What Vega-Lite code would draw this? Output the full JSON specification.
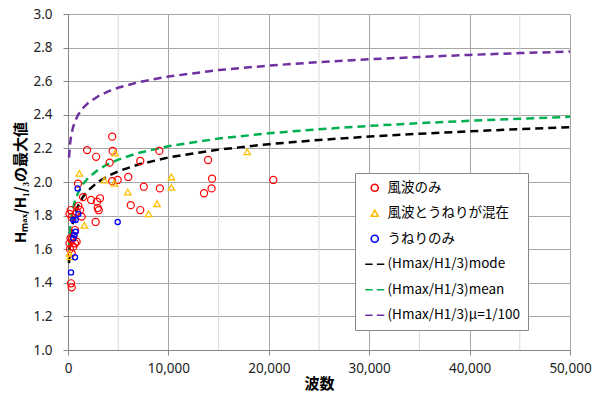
{
  "$schema": "https://vega.github.io/schema/vega-lite/v6.json",
  "width": 502,
  "height": 336,
  "autosize": {"type": "none"},
  "padding": {"left": 68, "top": 14, "right": 23, "bottom": 48},
  "background": "white",
  "config": {
    "view": {"stroke": null},
    "axis": {"labelFont": "Noto Sans", "labelFontSize": 13.5, "labelColor": "#222", "titleFont": "Noto Sans CJK JP", "titleFontWeight": "bold", "titleFontSize": 15, "titleColor": "#000", "domainColor": "#868686", "tickColor": "#868686", "tickSize": 5, "gridColor": "#a6a6a6", "gridOpacity": 1, "labelOverlap": false},
    "axisX": {"tickCount": 5, "format": ",.0f", "labelPadding": 6, "titlePadding": 2, "labelFlush": false},
    "axisY": {"tickCount": 10, "format": ".1f", "labelPadding": 11, "titlePadding": 4},
    "legend": {"labelFont": "Noto Sans CJK JP", "labelFontSize": 13.5, "labelColor": "#000", "padding": 8, "strokeColor": "#888888", "fillColor": "white", "symbolSize": 50, "symbolStrokeWidth": 1.6, "symbolOffset": 5, "labelOffset": 6, "rowPadding": 10.5, "labelLimit": 300}
  },
  "datasets": {
    "grid": [{"N": 5000}, {"N": 15000}, {"N": 25000}, {"N": 35000}, {"N": 45000}],
    "pts": [
      {"N": 4400, "v": 2.27, "series": "風波のみ"},
      {"N": 1900, "v": 2.19, "series": "風波のみ"},
      {"N": 2800, "v": 2.15, "series": "風波のみ"},
      {"N": 4450, "v": 2.185, "series": "風波のみ"},
      {"N": 4150, "v": 2.115, "series": "風波のみ"},
      {"N": 7200, "v": 2.125, "series": "風波のみ"},
      {"N": 9100, "v": 2.185, "series": "風波のみ"},
      {"N": 1000, "v": 1.99, "series": "風波のみ"},
      {"N": 4400, "v": 2.005, "series": "風波のみ"},
      {"N": 4950, "v": 2.012, "series": "風波のみ"},
      {"N": 6000, "v": 2.03, "series": "風波のみ"},
      {"N": 7550, "v": 1.972, "series": "風波のみ"},
      {"N": 9150, "v": 1.962, "series": "風波のみ"},
      {"N": 1500, "v": 1.91, "series": "風波のみ"},
      {"N": 2300, "v": 1.893, "series": "風波のみ"},
      {"N": 2890, "v": 1.883, "series": "風波のみ"},
      {"N": 3190, "v": 1.903, "series": "風波のみ"},
      {"N": 2960, "v": 1.845, "series": "風波のみ"},
      {"N": 3060, "v": 1.832, "series": "風波のみ"},
      {"N": 2750, "v": 1.762, "series": "風波のみ"},
      {"N": 6250, "v": 1.862, "series": "風波のみ"},
      {"N": 7200, "v": 1.833, "series": "風波のみ"},
      {"N": 13950, "v": 2.131, "series": "風波のみ"},
      {"N": 14350, "v": 2.02, "series": "風波のみ"},
      {"N": 14300, "v": 1.962, "series": "風波のみ"},
      {"N": 13550, "v": 1.933, "series": "風波のみ"},
      {"N": 20450, "v": 2.012, "series": "風波のみ"},
      {"N": 270, "v": 1.833, "series": "風波のみ"},
      {"N": 1030, "v": 1.857, "series": "風波のみ"},
      {"N": 1200, "v": 1.833, "series": "風波のみ"},
      {"N": 860, "v": 1.823, "series": "風波のみ"},
      {"N": 1360, "v": 1.794, "series": "風波のみ"},
      {"N": 370, "v": 1.79, "series": "風波のみ"},
      {"N": 150, "v": 1.81, "series": "風波のみ"},
      {"N": 700, "v": 1.714, "series": "風波のみ"},
      {"N": 530, "v": 1.675, "series": "風波のみ"},
      {"N": 370, "v": 1.655, "series": "風波のみ"},
      {"N": 700, "v": 1.635, "series": "風波のみ"},
      {"N": 860, "v": 1.645, "series": "風波のみ"},
      {"N": 530, "v": 1.615, "series": "風波のみ"},
      {"N": 370, "v": 1.575, "series": "風波のみ"},
      {"N": 200, "v": 1.6, "series": "風波のみ"},
      {"N": 150, "v": 1.635, "series": "風波のみ"},
      {"N": 250, "v": 1.665, "series": "風波のみ"},
      {"N": 300, "v": 1.397, "series": "風波のみ"},
      {"N": 370, "v": 1.373, "series": "風波のみ"},
      {"N": 4680, "v": 2.172, "series": "風波とうねりが混在"},
      {"N": 1130, "v": 2.052, "series": "風波とうねりが混在"},
      {"N": 3620, "v": 2.012, "series": "風波とうねりが混在"},
      {"N": 4620, "v": 1.992, "series": "風波とうねりが混在"},
      {"N": 5950, "v": 1.94, "series": "風波とうねりが混在"},
      {"N": 10300, "v": 2.03, "series": "風波とうねりが混在"},
      {"N": 10300, "v": 1.968, "series": "風波とうねりが混在"},
      {"N": 8870, "v": 1.871, "series": "風波とうねりが混在"},
      {"N": 8030, "v": 1.811, "series": "風波とうねりが混在"},
      {"N": 17850, "v": 2.18, "series": "風波とうねりが混在"},
      {"N": 1630, "v": 1.742, "series": "風波とうねりが混在"},
      {"N": 230, "v": 1.555, "series": "風波とうねりが混在"},
      {"N": 150, "v": 1.575, "series": "風波とうねりが混在"},
      {"N": 960, "v": 1.962, "series": "うねりのみ"},
      {"N": 4950, "v": 1.762, "series": "うねりのみ"},
      {"N": 530, "v": 1.774, "series": "うねりのみ"},
      {"N": 760, "v": 1.774, "series": "うねりのみ"},
      {"N": 1030, "v": 1.81, "series": "うねりのみ"},
      {"N": 760, "v": 1.704, "series": "うねりのみ"},
      {"N": 630, "v": 1.685, "series": "うねりのみ"},
      {"N": 530, "v": 1.665, "series": "うねりのみ"},
      {"N": 700, "v": 1.552, "series": "うねりのみ"},
      {"N": 300, "v": 1.462, "series": "うねりのみ"}
    ],
    "curves": [
      {"N": 100, "v": 1.5174, "series": "(Hmax/H1/3)mode"},
      {"N": 200, "v": 1.6276, "series": "(Hmax/H1/3)mode"},
      {"N": 300, "v": 1.6888, "series": "(Hmax/H1/3)mode"},
      {"N": 500, "v": 1.7628, "series": "(Hmax/H1/3)mode"},
      {"N": 700, "v": 1.8099, "series": "(Hmax/H1/3)mode"},
      {"N": 1000, "v": 1.8585, "series": "(Hmax/H1/3)mode"},
      {"N": 1500, "v": 1.9122, "series": "(Hmax/H1/3)mode"},
      {"N": 2000, "v": 1.9495, "series": "(Hmax/H1/3)mode"},
      {"N": 3000, "v": 2.0008, "series": "(Hmax/H1/3)mode"},
      {"N": 4000, "v": 2.0364, "series": "(Hmax/H1/3)mode"},
      {"N": 5000, "v": 2.0636, "series": "(Hmax/H1/3)mode"},
      {"N": 7000, "v": 2.104, "series": "(Hmax/H1/3)mode"},
      {"N": 10000, "v": 2.146, "series": "(Hmax/H1/3)mode"},
      {"N": 15000, "v": 2.1927, "series": "(Hmax/H1/3)mode"},
      {"N": 20000, "v": 2.2253, "series": "(Hmax/H1/3)mode"},
      {"N": 25000, "v": 2.2502, "series": "(Hmax/H1/3)mode"},
      {"N": 30000, "v": 2.2703, "series": "(Hmax/H1/3)mode"},
      {"N": 35000, "v": 2.2873, "series": "(Hmax/H1/3)mode"},
      {"N": 40000, "v": 2.3018, "series": "(Hmax/H1/3)mode"},
      {"N": 45000, "v": 2.3146, "series": "(Hmax/H1/3)mode"},
      {"N": 50000, "v": 2.3259, "series": "(Hmax/H1/3)mode"},
      {"N": 100, "v": 1.6125, "series": "(Hmax/H1/3)mean"},
      {"N": 200, "v": 1.7163, "series": "(Hmax/H1/3)mean"},
      {"N": 300, "v": 1.7742, "series": "(Hmax/H1/3)mean"},
      {"N": 500, "v": 1.8447, "series": "(Hmax/H1/3)mean"},
      {"N": 700, "v": 1.8896, "series": "(Hmax/H1/3)mean"},
      {"N": 1000, "v": 1.9361, "series": "(Hmax/H1/3)mean"},
      {"N": 1500, "v": 1.9877, "series": "(Hmax/H1/3)mean"},
      {"N": 2000, "v": 2.0235, "series": "(Hmax/H1/3)mean"},
      {"N": 3000, "v": 2.0729, "series": "(Hmax/H1/3)mean"},
      {"N": 4000, "v": 2.1073, "series": "(Hmax/H1/3)mean"},
      {"N": 5000, "v": 2.1335, "series": "(Hmax/H1/3)mean"},
      {"N": 7000, "v": 2.1726, "series": "(Hmax/H1/3)mean"},
      {"N": 10000, "v": 2.2132, "series": "(Hmax/H1/3)mean"},
      {"N": 15000, "v": 2.2585, "series": "(Hmax/H1/3)mean"},
      {"N": 20000, "v": 2.2901, "series": "(Hmax/H1/3)mean"},
      {"N": 25000, "v": 2.3143, "series": "(Hmax/H1/3)mean"},
      {"N": 30000, "v": 2.3339, "series": "(Hmax/H1/3)mean"},
      {"N": 35000, "v": 2.3504, "series": "(Hmax/H1/3)mean"},
      {"N": 40000, "v": 2.3645, "series": "(Hmax/H1/3)mean"},
      {"N": 45000, "v": 2.3769, "series": "(Hmax/H1/3)mean"},
      {"N": 50000, "v": 2.3879, "series": "(Hmax/H1/3)mean"},
      {"N": 100, "v": 2.1454, "series": "(Hmax/H1/3)μ=1/100"},
      {"N": 200, "v": 2.2247, "series": "(Hmax/H1/3)μ=1/100"},
      {"N": 300, "v": 2.2698, "series": "(Hmax/H1/3)μ=1/100"},
      {"N": 500, "v": 2.3254, "series": "(Hmax/H1/3)μ=1/100"},
      {"N": 700, "v": 2.3613, "series": "(Hmax/H1/3)μ=1/100"},
      {"N": 1000, "v": 2.3988, "series": "(Hmax/H1/3)μ=1/100"},
      {"N": 1500, "v": 2.4406, "series": "(Hmax/H1/3)μ=1/100"},
      {"N": 2000, "v": 2.4699, "series": "(Hmax/H1/3)μ=1/100"},
      {"N": 3000, "v": 2.5106, "series": "(Hmax/H1/3)μ=1/100"},
      {"N": 4000, "v": 2.5391, "series": "(Hmax/H1/3)μ=1/100"},
      {"N": 5000, "v": 2.561, "series": "(Hmax/H1/3)μ=1/100"},
      {"N": 7000, "v": 2.5937, "series": "(Hmax/H1/3)μ=1/100"},
      {"N": 10000, "v": 2.6278, "series": "(Hmax/H1/3)μ=1/100"},
      {"N": 15000, "v": 2.6661, "series": "(Hmax/H1/3)μ=1/100"},
      {"N": 20000, "v": 2.6929, "series": "(Hmax/H1/3)μ=1/100"},
      {"N": 25000, "v": 2.7136, "series": "(Hmax/H1/3)μ=1/100"},
      {"N": 30000, "v": 2.7303, "series": "(Hmax/H1/3)μ=1/100"},
      {"N": 35000, "v": 2.7444, "series": "(Hmax/H1/3)μ=1/100"},
      {"N": 40000, "v": 2.7565, "series": "(Hmax/H1/3)μ=1/100"},
      {"N": 45000, "v": 2.7672, "series": "(Hmax/H1/3)μ=1/100"},
      {"N": 50000, "v": 2.7767, "series": "(Hmax/H1/3)μ=1/100"}
    ]
  },
  "layer": [
    {
      "data": {"name": "grid"},
      "mark": {"type": "rule", "color": "#d9d9d9", "strokeWidth": 1},
      "encoding": {
        "x": {"field": "N", "type": "quantitative", "title": "波数"}
      }
    },
    {
      "data": {"name": "curves"},
      "mark": {"type": "line", "strokeWidth": 2.5, "strokeDash": [8, 5]},
      "encoding": {
        "x": {"field": "N", "type": "quantitative", "scale": {"domain": [0, 50000], "nice": false}, "title": "波数"},
        "y": {"field": "v", "type": "quantitative", "scale": {"domain": [1, 3], "nice": false, "zero": false}, "title": "Hₘₐₓ/H₁/₃の最大値"},
        "color": {"field": "series", "type": "nominal",
          "scale": {"domain": ["風波のみ", "風波とうねりが混在", "うねりのみ", "(Hmax/H1/3)mode", "(Hmax/H1/3)mean", "(Hmax/H1/3)μ=1/100"], "range": ["#ff0000", "#ffc000", "#0000ff", "#000000", "#00b050", "#7030a0"]},
          "legend": {"title": null, "orient": "none", "legendX": 287, "legendY": 159}}
      }
    },
    {
      "data": {"name": "pts"},
      "transform": [{"filter": "datum.series === '風波のみ'"}],
      "mark": {"type": "point", "filled": false, "size": 50, "strokeWidth": 1.2, "opacity": 1},
      "encoding": {
        "x": {"field": "N", "type": "quantitative", "title": "波数"},
        "y": {"field": "v", "type": "quantitative", "title": "Hₘₐₓ/H₁/₃の最大値"},
        "color": {"field": "series", "type": "nominal"},
        "shape": {"field": "series", "type": "nominal",
          "scale": {"domain": ["風波のみ", "風波とうねりが混在", "うねりのみ", "(Hmax/H1/3)mode", "(Hmax/H1/3)mean", "(Hmax/H1/3)μ=1/100"], "range": ["circle", "triangle-up", "circle", "M-2.7,0H-0.6M0.6,0H2.7", "M-2.7,0H-0.6M0.6,0H2.7", "M-2.7,0H-0.6M0.6,0H2.7"]},
          "legend": {"title": null, "orient": "none", "legendX": 287, "legendY": 159}}}
    },
    {
      "data": {"name": "pts"},
      "transform": [{"filter": "datum.series === '風波とうねりが混在'"}],
      "mark": {"type": "point", "filled": false, "size": 42, "strokeWidth": 1.3, "opacity": 1},
      "encoding": {
        "x": {"field": "N", "type": "quantitative", "title": "波数"},
        "y": {"field": "v", "type": "quantitative", "title": "Hₘₐₓ/H₁/₃の最大値"},
        "color": {"field": "series", "type": "nominal"},
        "shape": {"field": "series", "type": "nominal"}}
    },
    {
      "data": {"name": "pts"},
      "transform": [{"filter": "datum.series === 'うねりのみ'"}],
      "mark": {"type": "point", "filled": false, "size": 26, "strokeWidth": 1.3, "opacity": 1},
      "encoding": {
        "x": {"field": "N", "type": "quantitative", "title": "波数"},
        "y": {"field": "v", "type": "quantitative", "title": "Hₘₐₓ/H₁/₃の最大値"},
        "color": {"field": "series", "type": "nominal"},
        "shape": {"field": "series", "type": "nominal"}}
    }
  ]
}
